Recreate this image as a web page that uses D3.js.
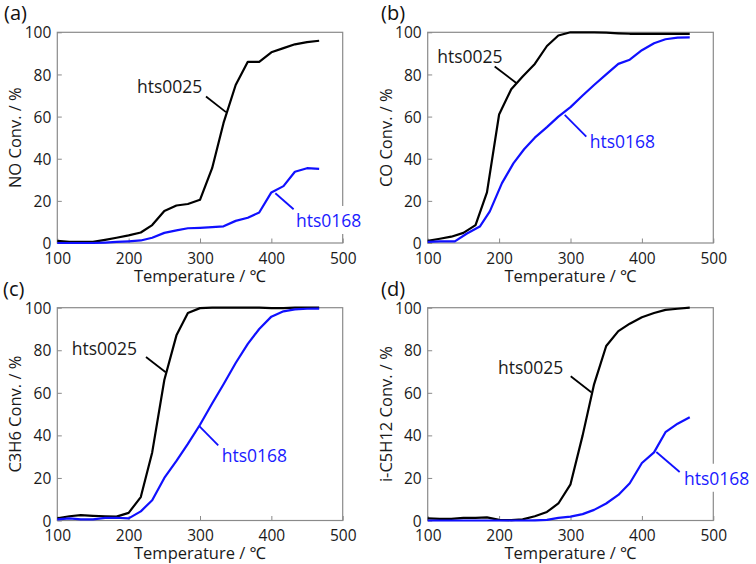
<!DOCTYPE html>
<html>
<head>
<meta charset="utf-8">
<script src="https://cdn.jsdelivr.net/npm/d3@7"></script>
<style>
  html, body { margin: 0; padding: 0; background: #fff; }
  svg { display: block; }
  text { font-family: "Open Sans", "Noto Sans", sans-serif; }
</style>
</head>
<body>
<svg id="chart" width="756" height="564"></svg>
<script>
// ---------- data ----------
const temps = [100, 117, 133, 150, 167, 183, 200, 217, 233, 250, 267, 283, 300, 317, 333, 350, 367, 383, 400, 417, 433, 450, 467];

const noHts0025 = [1, 0.5, 0.5, 0.5, 1.5, 2.5, 3.6, 5, 8.5, 15.2, 17.8, 18.5, 20.5, 35.5, 57, 75, 86, 86, 90.5, 92.5, 94.3, 95.3, 96];
const noHts0168 = [0, 0, 0, 0, 0.2, 0.5, 0.8, 1.2, 2.5, 4.8, 6, 7, 7.2, 7.5, 7.9, 10.5, 12, 14.5, 24, 27, 33.8, 35.5, 35.2];

const coHts0025 = [1, 2, 3, 4.8, 8.5, 24, 61, 73, 79, 85, 93.5, 98.5, 100, 100, 100, 99.8, 99.5, 99.3, 99.3, 99.3, 99.3, 99.3, 99.3];
const coTemps0168 = [100, 117, 138, 155, 173, 187, 204, 220, 235, 250, 267, 283, 300, 317, 333, 350, 367, 383, 400, 417, 433, 450, 467];
const coHts0168 = [0.5, 0.8, 0.8, 4.5, 7.8, 15, 28.4, 37.8, 44.5, 50, 55, 60, 64.5, 70, 75, 80, 85, 87, 91.5, 94.8, 96.7, 97.5, 97.6];

const c3h6Hts0025 = [1, 2, 2.5, 2.2, 2, 1.8, 3.6, 11, 32, 66, 87, 97.5, 99.8, 100, 100, 100, 100, 100, 99.8, 99.8, 100, 100, 100];
const c3h6Hts0168 = [0.5, 1, 0.5, 0.5, 1.2, 1.3, 1, 4.3, 9.5, 20, 28, 36, 45, 55, 64, 74, 83, 90, 95.8, 98.3, 99.2, 99.5, 99.6];

const c5Hts0025 = [1, 0.8, 0.8, 1.2, 1.2, 1.5, 0.3, 0.2, 0.5, 2, 4, 8, 17, 40, 64, 82, 89, 92.5, 95.5, 97.5, 99, 99.5, 100];
const c5Hts0168 = [0, 0, 0, 0, 0, 0, 0, 0, 0, 0.1, 0.3, 1.2, 1.8, 3, 5, 8, 12, 17.5, 27, 32, 41.5, 45.5, 48.5];

const xTicks = [100, 200, 300, 400, 500];
const yTicks = [0, 20, 40, 60, 80, 100];
const seriesNames = ["hts0025", "hts0168"];
const panelLetters = ["(a)", "(b)", "(c)", "(d)"];
const yTitles = ["NO Conv. / %", "CO Conv. / %", "C3H6 Conv. / %", "i-C5H12 Conv. / %"];
const xTitle = "Temperature / \u2103";

// annotation anchors in data units: text start (T, %), leader from (T, %) to (T, %)
const annotations = [
  [{t: 211.7, v: 71, l: [308.4, 69.5, 336.4, 62.1]}, {t: 434.6, v: 7.6, l: [431.2, 16, 405.6, 23.6]}],
  [{t: 113.4, v: 85.4, l: [193.8, 83.8, 224.1, 75.9]}, {t: 326.9, v: 45, l: [322.1, 50.5, 291.9, 60.8]}],
  [{t: 120.2, v: 77.8, l: [224.3, 76.8, 251.9, 69.7]}, {t: 330.4, v: 27.5, l: [325.6, 35.3, 299, 44.4]}],
  [{t: 198.5, v: 68.9, l: [300.3, 67.8, 329.1, 60.3]}, {t: 459, v: 16.8, l: [452.9, 22.8, 420.2, 32.2]}]
];

const panelSeries = [
  [{x: temps, y: noHts0025}, {x: temps, y: noHts0168}],
  [{x: temps, y: coHts0025}, {x: coTemps0168, y: coHts0168}],
  [{x: temps, y: c3h6Hts0025}, {x: temps, y: c3h6Hts0168}],
  [{x: temps, y: c5Hts0025}, {x: temps, y: c5Hts0168}]
];

// ---------- layout ----------
const layout = [
  {left: 57.3, top: 32.3, right: 342.7, bottom: 243, lx: 4, ly: 20},
  {left: 427.7, top: 32.3, right: 713.3, bottom: 243, lx: 381, ly: 20},
  {left: 57.3, top: 307.7, right: 342.7, bottom: 520.5, lx: 3, ly: 296},
  {left: 427.7, top: 307.7, right: 713.3, bottom: 520.5, lx: 381, ly: 296}
];
const colors = ["#000000", "#1010ff"];
const textColors = ["#1a1a1a", "#1a1aff"];
const frameColor = "#8a8a8a";

const svg = d3.select("#chart");

layout.forEach((L, i) => {
  const x = d3.scaleLinear().domain([100, 500]).range([L.left, L.right]);
  const y = d3.scaleLinear().domain([0, 100]).range([L.bottom, L.top]);
  const g = svg.append("g");

  // panel letter
  g.append("text").attr("x", L.lx).attr("y", L.ly)
    .attr("font-size", 20).attr("fill", "#111").text(panelLetters[i]);

  // axes
  const xAxis = d3.axisBottom(x).tickValues(xTicks).tickSizeInner(-4.5).tickSizeOuter(0).tickPadding(8);
  const yAxis = d3.axisLeft(y).tickValues(yTicks).tickSizeInner(-4.5).tickSizeOuter(0).tickPadding(6);
  const gx = g.append("g").attr("transform", `translate(0,${L.bottom})`).call(xAxis);
  const gy = g.append("g").attr("transform", `translate(${L.left},0)`).call(yAxis);
  [gx, gy].forEach(a => {
    a.select(".domain").remove();
    a.selectAll("line").attr("stroke", frameColor).attr("stroke-width", 1);
    a.selectAll("text").attr("font-size", 15.5).attr("fill", "#1a1a1a")
      .attr("font-family", '"Open Sans", sans-serif');
  });
  gx.selectAll("text").attr("y", 20.8).attr("dy", null);
  gy.selectAll("text").attr("dy", "0.36em");

  // frame
  g.append("rect").attr("x", L.left).attr("y", L.top)
    .attr("width", L.right - L.left).attr("height", L.bottom - L.top)
    .attr("fill", "none").attr("stroke", frameColor).attr("stroke-width", 1.2);

  // titles
  g.append("text").attr("x", (L.left + L.right) / 2).attr("y", L.bottom + 38.5)
    .attr("text-anchor", "middle").attr("font-size", 16.5).attr("fill", "#1a1a1a").text(xTitle);
  const cy = (L.top + L.bottom) / 2;
  g.append("text").attr("transform", `translate(${L.left - 36},${cy}) rotate(-90)`)
    .attr("text-anchor", "middle").attr("font-size", 16.5).attr("fill", "#1a1a1a").text(yTitles[i]);

  // series
  const line = d3.line().x(d => x(d[0])).y(d => y(d[1]));
  panelSeries[i].forEach((s, k) => {
    const pts = s.x.map((t, j) => [t, s.y[j]]);
    g.append("path").datum(pts).attr("d", line)
      .attr("fill", "none").attr("stroke", colors[k]).attr("stroke-width", 2.2)
      .attr("stroke-linejoin", "round");
  });

  // annotations
  annotations[i].forEach((a, k) => {
    const bg = g.append("rect").attr("fill", "#fff");
    const t = g.append("text").attr("x", x(a.t)).attr("y", y(a.v))
      .attr("font-size", 17.5).attr("fill", textColors[k]).text(seriesNames[k]);
    const bb = t.node().getBBox();
    bg.attr("x", bb.x - 2).attr("y", bb.y - 2).attr("width", bb.width + 4).attr("height", bb.height + 4);
    g.append("line")
      .attr("x1", x(a.l[0])).attr("y1", y(a.l[1]))
      .attr("x2", x(a.l[2])).attr("y2", y(a.l[3]))
      .attr("stroke", colors[k]).attr("stroke-width", 1.8);
  });
});
</script>
</body>
</html>
